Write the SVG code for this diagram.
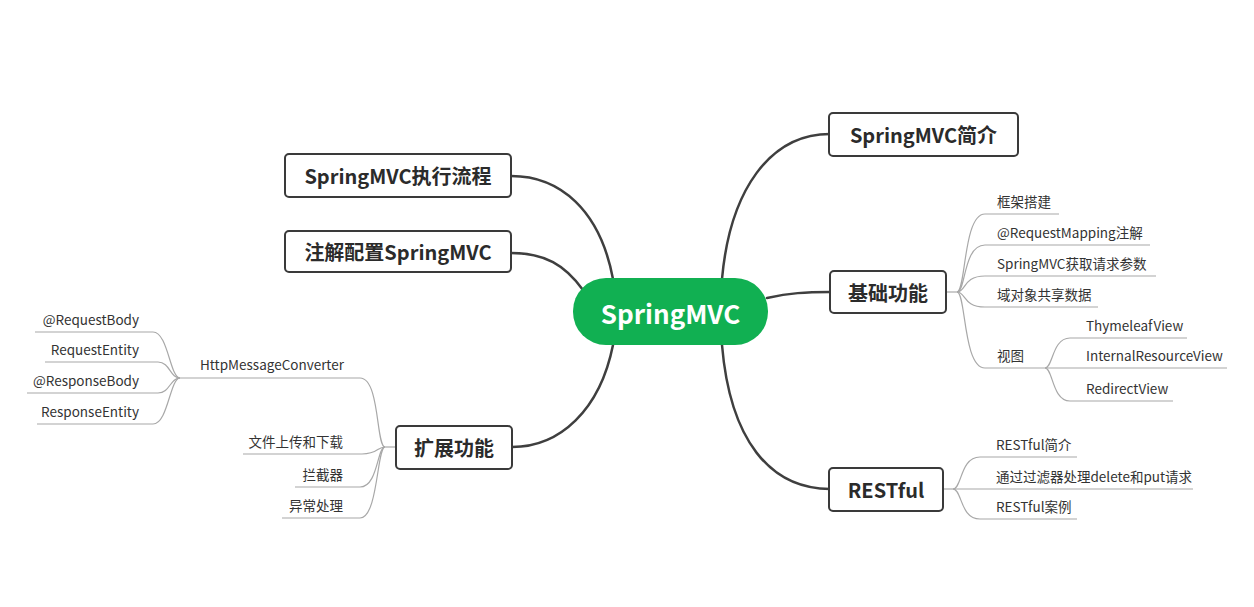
<svg xmlns="http://www.w3.org/2000/svg" width="1254" height="607" viewBox="0 0 1254 607">
<style>
.box{fill:#fff;stroke:#3a3a3a;stroke-width:2}
.bt{font-family:"Noto Sans CJK SC","Noto Sans",sans-serif;font-weight:bold;font-size:20px;fill:#2b2b2b;text-anchor:middle;dominant-baseline:central}
.st{font-family:"Noto Sans CJK SC","Noto Sans",sans-serif;font-size:13.5px;fill:#333}
.end{text-anchor:end}
.main{fill:none;stroke:#3f3f3f;stroke-width:2.5;stroke-linecap:round}
.sub{fill:none;stroke:#a8a8a8;stroke-width:1.2}
</style>
<rect width="1254" height="607" fill="#fff"/>
<g id="connectors">
<path class="main" d="M722 279 C730 190 770 134 830 134"/>
<path class="main" d="M613 279 C600 210 560 176 511 176"/>
<path class="main" d="M583 290 C565 265 545 253 511 253"/>
<path class="main" d="M767 298 C790 293 805 292 830 292"/>
<path class="main" d="M722 345 C730 440 770 489 830 489"/>
<path class="main" d="M613 345 C600 410 560 447 512 447"/>
<!-- 基础功能 -->
<path class="sub" d="M946 292 L957 292"/>
<path class="sub" d="M957 292 C966 292 963 214 985 214 L1059 214"/>
<path class="sub" d="M957 292 C966 292 963 245 985 245 L1150 245"/>
<path class="sub" d="M957 292 C966 292 963 276 985 276 L1156 276"/>
<path class="sub" d="M957 292 C966 292 963 307 985 307 L1098 307"/>
<path class="sub" d="M957 292 C966 292 963 368 985 368 L1045 368"/>
<path class="sub" d="M1045 368 C1053 368 1052 338 1070 338 L1187 338"/>
<path class="sub" d="M1045 368 L1227 368"/>
<path class="sub" d="M1045 368 C1053 368 1052 401 1070 401 L1173 401"/>
<!-- RESTful -->
<path class="sub" d="M943 489 L953 489"/>
<path class="sub" d="M953 489 C962 489 960 457 980 457 L1077 457"/>
<path class="sub" d="M953 489 L1193 489"/>
<path class="sub" d="M953 489 C962 489 960 519 980 519 L1077 519"/>
<!-- 扩展功能 -->
<path class="sub" d="M396 447 L385 447"/>
<path class="sub" d="M385 447 C376 447 380 378 360 378 L180 378"/>
<path class="sub" d="M385 447 C377 447 378 454 362 454 L243 454"/>
<path class="sub" d="M385 447 C377 447 378 487 360 487 L295 487"/>
<path class="sub" d="M385 447 C377 447 378 518 360 518 L282 518"/>
<path class="sub" d="M180 378 C170 378 168 332 153 332 L35 332"/>
<path class="sub" d="M180 378 C170 378 170 362 158 362 L45 362"/>
<path class="sub" d="M180 378 C170 378 170 393 158 393 L27 393"/>
<path class="sub" d="M180 378 C170 378 168 424 153 424 L37 424"/>
</g>
<g id="center">
<rect x="573" y="278" width="195" height="67" rx="33" fill="#11b052"/>
<text x="670.5" y="312" font-family="'Noto Sans CJK SC','Noto Sans',sans-serif" font-weight="bold" font-size="26" fill="#fff" text-anchor="middle" dominant-baseline="central">SpringMVC</text>
</g>
<g id="n-intro">
<rect class="box" x="829" y="113" width="189" height="43" rx="4"/>
<text class="bt" x="923.5" y="134.5">SpringMVC简介</text>
</g>
<g id="n-basic">
<rect class="box" x="830" y="271" width="116" height="42" rx="4"/>
<text class="bt" x="888" y="292">基础功能</text>
</g>
<g id="n-rest">
<rect class="box" x="829" y="468" width="114" height="43" rx="4"/>
<text class="bt" x="886" y="489.5">RESTful</text>
</g>
<g id="n-flow">
<rect class="box" x="285" y="154" width="226" height="43" rx="4"/>
<text class="bt" x="398" y="175.5">SpringMVC执行流程</text>
</g>
<g id="n-anno">
<rect class="box" x="285" y="231" width="226" height="41" rx="4"/>
<text class="bt" x="398" y="251.5">注解配置SpringMVC</text>
</g>
<g id="n-ext">
<rect class="box" x="396" y="426" width="116" height="43" rx="4"/>
<text class="bt" x="454" y="447.5">扩展功能</text>
</g>
<g id="basic-children">
<text class="st" x="997" y="207">框架搭建</text>
<text class="st" x="997" y="238">@RequestMapping注解</text>
<text class="st" x="997" y="269">SpringMVC获取请求参数</text>
<text class="st" x="997" y="300">域对象共享数据</text>
<text class="st" x="997" y="361">视图</text>
<text class="st" x="1086" y="331">ThymeleafView</text>
<text class="st" x="1086" y="361">InternalResourceView</text>
<text class="st" x="1086" y="394">RedirectView</text>
</g>
<g id="rest-children">
<text class="st" x="996" y="450">RESTful简介</text>
<text class="st" x="996" y="482">通过过滤器处理delete和put请求</text>
<text class="st" x="996" y="512">RESTful案例</text>
</g>
<g id="ext-children">
<text class="st" x="200" y="370">HttpMessageConverter</text>
<text class="st end" x="139" y="325">@RequestBody</text>
<text class="st end" x="139" y="355">RequestEntity</text>
<text class="st end" x="139" y="386">@ResponseBody</text>
<text class="st end" x="139" y="417">ResponseEntity</text>
<text class="st end" x="343" y="447">文件上传和下载</text>
<text class="st end" x="343" y="480">拦截器</text>
<text class="st end" x="343" y="511">异常处理</text>
</g>
</svg>
